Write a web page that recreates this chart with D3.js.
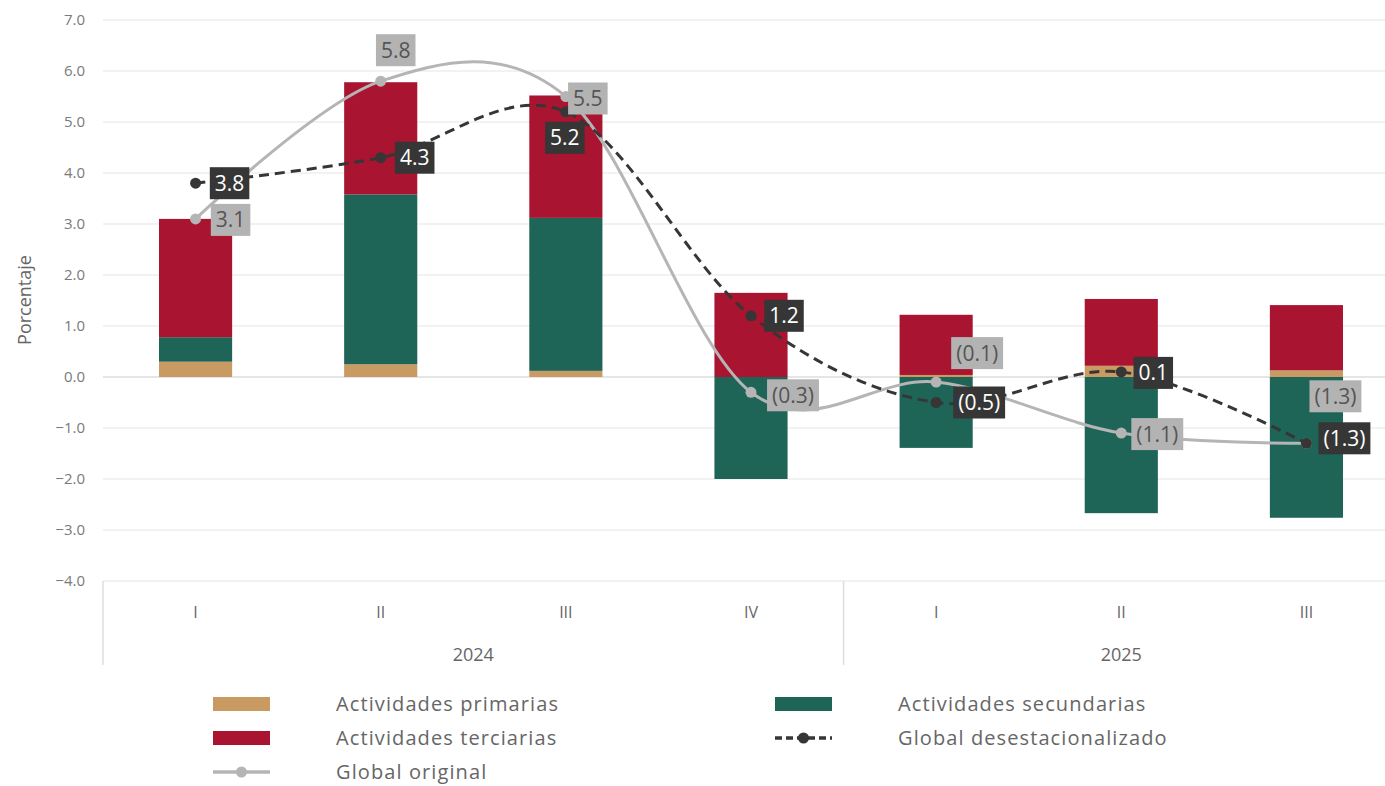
<!doctype html>
<html>
<head>
<meta charset="utf-8">
<style>
  body { margin: 0; background: #fff; }
  svg text { font-family: "Open Sans", Lato, sans-serif; }
</style>
<script src="https://d3js.org/d3.v7.min.js"></script>
</head>
<body>
<svg width="1385" height="786"></svg>
<script>
// quarters and years
var quarters = ["I", "II", "III", "IV", "I", "II", "III"];
var years = ["2024", "2025"];
var yearSpan = [4, 3];

// contributions (percentage points)
var primarias   = [0.30, 0.25, 0.12, 0.00, 0.04, 0.22, 0.13];
var secundarias = [0.48, 3.33, 3.00, -2.00, -1.39, -2.67, -2.76];
var terciarias  = [2.32, 2.20, 2.40, 1.65, 1.18, 1.31, 1.28];

var globalOriginal = [3.1, 5.8, 5.5, -0.3, -0.1, -1.1, -1.3];
var globalDesest   = [3.8, 4.3, 5.2, 1.2, -0.5, 0.1, -1.3];

var yTicks = [-4, -3, -2, -1, 0, 1, 2, 3, 4, 5, 6, 7];

// label offsets from the point (box centre)
var origLabelOff = [[35, 1], [15, -31], [22, 2], [42, 3], [41, -29], [36, 1], [29, -47]];
var desLabelOff  = [[34, 0], [34, 0], [-1, 26], [33, 0], [43, 0], [32, 1], [38, -5]];

var colors = { prim: "#c99a61", sec: "#1e6457", ter: "#a91431", orig: "#b5b5b5", des: "#363636" };

var svg = d3.select("svg");
var plotL = 103, plotR = 1399, plotT = 20, plotB = 581;

var idx = d3.range(quarters.length);
var x = d3.scaleBand().domain(idx).range([plotL, plotR]).padding(0);
var y = d3.scaleLinear().domain([-4, 7]).range([plotB, plotT]);
var barW = x.bandwidth() * 0.395;
var cx = function(i) { return x(i) + x.bandwidth() / 2; };

// grid
svg.append("g").selectAll("line").data(yTicks).enter().append("line")
   .attr("x1", plotL).attr("x2", 1385)
   .attr("y1", function(d) { return y(d); }).attr("y2", function(d) { return y(d); })
   .attr("stroke", function(d) { return d === 0 ? "#dcdcdc" : "#eeeeee"; })
   .attr("stroke-width", 1.5);

// y axis labels
svg.append("g")
   .attr("transform", "translate(" + (plotL - 15) + ",0)")
   .call(d3.axisLeft(y).tickValues(yTicks).tickSize(0).tickFormat(d3.format(".1f")))
   .call(function(g) { g.select(".domain").remove(); })
   .selectAll("text")
   .attr("fill", "#7a7a7a").attr("font-size", "15px")
   .style("font-family", "'Open Sans', Lato, sans-serif");

svg.append("text")
   .attr("transform", "translate(31,300) rotate(-90)")
   .attr("text-anchor", "middle")
   .attr("fill", "#666").attr("font-size", "18px")
   .text("Porcentaje");

// stacked bars
var stackData = idx.map(function(i) {
  var s = [];
  var pos = 0, neg = 0;
  [["prim", primarias[i]], ["sec", secundarias[i]], ["ter", terciarias[i]]].forEach(function(p) {
    var v = p[1];
    if (v >= 0) { s.push({ k: p[0], y0: pos, y1: pos + v, i: i }); pos += v; }
    else { s.push({ k: p[0], y0: neg + v, y1: neg, i: i }); neg += v; }
  });
  return s;
});

svg.append("g").selectAll("rect").data(stackData.flat()).enter().append("rect")
   .attr("x", function(d) { return cx(d.i) - barW / 2; })
   .attr("width", barW)
   .attr("y", function(d) { return y(d.y1); })
   .attr("height", function(d) { return y(d.y0) - y(d.y1); })
   .attr("fill", function(d) { return colors[d.k]; });

// category axis
var xAxis = svg.append("g").attr("transform", "translate(0," + plotB + ")");
xAxis.selectAll("text.q").data(idx).enter().append("text")
   .attr("x", function(i) { return cx(i); }).attr("y", 37)
   .attr("text-anchor", "middle").attr("fill", "#666").attr("font-size", "16px")
   .text(function(i) { return quarters[i]; });

var yearStart = 0;
years.forEach(function(yr, k) {
  var a = x(yearStart);
  xAxis.append("line").attr("x1", a).attr("x2", a).attr("y1", 0).attr("y2", 84)
       .attr("stroke", "#dedede").attr("stroke-width", 1.5);
  var mid = (cx(yearStart) + cx(yearStart + yearSpan[k] - 1)) / 2;
  xAxis.append("text").attr("x", mid).attr("y", 80)
       .attr("text-anchor", "middle").attr("fill", "#666").attr("font-size", "18px")
       .text(yr);
  yearStart += yearSpan[k];
});

// lines
var lineGen = d3.line()
   .x(function(d, i) { return cx(i); })
   .y(function(d) { return y(d); })
   .curve(d3.curveCatmullRom.alpha(0));

svg.append("path").datum(globalOriginal).attr("d", lineGen)
   .attr("fill", "none").attr("stroke", colors.orig).attr("stroke-width", 3);
svg.append("g").selectAll("circle").data(globalOriginal).enter().append("circle")
   .attr("cx", function(d, i) { return cx(i); }).attr("cy", function(d) { return y(d); })
   .attr("r", 5.5).attr("fill", colors.orig);

svg.append("path").datum(globalDesest).attr("d", lineGen)
   .attr("fill", "none").attr("stroke", colors.des).attr("stroke-width", 3)
   .attr("stroke-dasharray", "10,6");
svg.append("g").selectAll("circle").data(globalDesest).enter().append("circle")
   .attr("cx", function(d, i) { return cx(i); }).attr("cy", function(d) { return y(d); })
   .attr("r", 5.5).attr("fill", colors.des);

// data labels
function fmt(v) {
  var s = Math.abs(v).toFixed(1);
  return v < 0 ? "(" + s + ")" : s;
}

function addLabels(values, offs, bg, fg) {
  var g = svg.append("g");
  values.forEach(function(v, i) {
    var px = cx(i) + offs[i][0], py = y(v) + offs[i][1];
    var lg = g.append("g").attr("transform", "translate(" + px + "," + py + ")");
    var t = lg.append("text")
       .attr("text-anchor", "middle").attr("dy", "0.36em")
       .attr("fill", fg).attr("font-size", "21px")
       .text(fmt(v));
    var w = t.node().getComputedTextLength() + 10;
    lg.insert("rect", "text")
      .attr("x", -w / 2).attr("y", -16).attr("width", w).attr("height", 32)
      .attr("fill", bg);
  });
}
addLabels(globalOriginal, origLabelOff, "#b3b3b3", "#555");
addLabels(globalDesest, desLabelOff, "#363636", "#fff");

// legend
var legendItems = [
  { name: "Actividades primarias", type: "rect", color: colors.prim, col: 0, row: 0 },
  { name: "Actividades secundarias", type: "rect", color: colors.sec, col: 1, row: 0 },
  { name: "Actividades terciarias", type: "rect", color: colors.ter, col: 0, row: 1 },
  { name: "Global desestacionalizado", type: "dash", color: colors.des, col: 1, row: 1 },
  { name: "Global original", type: "line", color: colors.orig, col: 0, row: 2 }
];
var legend = svg.append("g");
legendItems.forEach(function(it) {
  var lx = it.col === 0 ? 213 : 775, ly = 704 + it.row * 34;
  var g = legend.append("g").attr("transform", "translate(" + lx + "," + ly + ")");
  if (it.type === "rect") {
    g.append("rect").attr("x", 0).attr("y", -7).attr("width", 57).attr("height", 14).attr("fill", it.color);
  } else {
    g.append("line").attr("x1", 0).attr("x2", 57).attr("y1", 0).attr("y2", 0)
     .attr("stroke", it.color).attr("stroke-width", 3.5)
     .attr("stroke-dasharray", it.type === "dash" ? "7,4" : null);
    g.append("circle").attr("cx", 28.5).attr("cy", 0).attr("r", 5.5).attr("fill", it.color);
  }
  g.append("text").attr("x", 123).attr("y", 0).attr("dy", "0.35em")
   .attr("fill", "#666").attr("font-size", "20px").style("letter-spacing", "1.1px")
   .text(it.name);
});
</script>
</body>
</html>
